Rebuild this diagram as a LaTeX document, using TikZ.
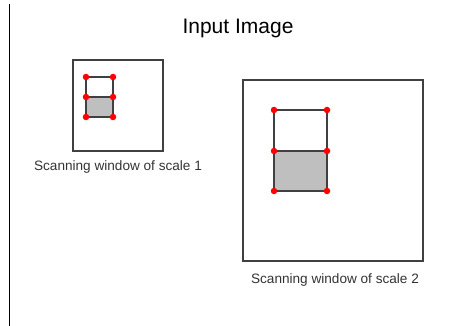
\documentclass[tikz,border=0pt]{standalone}
\usepackage{fontspec}
\setmainfont{Liberation Sans}
\tikzset{
  frame/.style={draw=black!75, line width=1.2pt},
  win/.style={draw=black!75, line width=1.2pt},
  shade/.style={fill=black!25, draw=black!75, line width=1.2pt},
  corner/.style={circle, fill=red, inner sep=0pt, minimum size=6.5pt},
  caption/.style={font=\fontsize{13.6}{16}\selectfont, text=black!80},
}
\begin{document}
\begin{tikzpicture}[x=1pt, y=-1pt]
\useasboundingbox (0,0) rectangle (457,326);
% left rule
\draw[line width=1.2pt] (9.5,4) -- (9.5,326);
% title
\node[font=\fontsize{21}{24}\selectfont] (title) at (238,28) {Input Image};

% scale 1
\node[frame, minimum width=90pt, minimum height=91pt, inner sep=0pt] (img1) at (118,105.5) {};
\draw[shade] (86,97) rectangle (113,117);
\draw[win] (86,77) rectangle (113,97);
\foreach \n/\x/\y in {a/86/77, b/113/77, c/86/97, d/113/97, e/86/117, f/113/117}
  \node[corner] (s1\n) at (\x,\y) {};
\node[caption] (cap1) at (118,167) {Scanning window of scale 1};

% scale 2
\node[frame, minimum width=180pt, minimum height=181pt, inner sep=0pt] (img2) at (333,170.5) {};
\draw[shade] (274,151) rectangle (327,191);
\draw[win] (274,110) rectangle (327,151);
\foreach \n/\x/\y in {a/274/110, b/327/110, c/274/151, d/327/151, e/274/191, f/327/191}
  \node[corner] (s2\n) at (\x,\y) {};
\node[caption] (cap2) at (335,280) {Scanning window of scale 2};
\end{tikzpicture}
\end{document}
